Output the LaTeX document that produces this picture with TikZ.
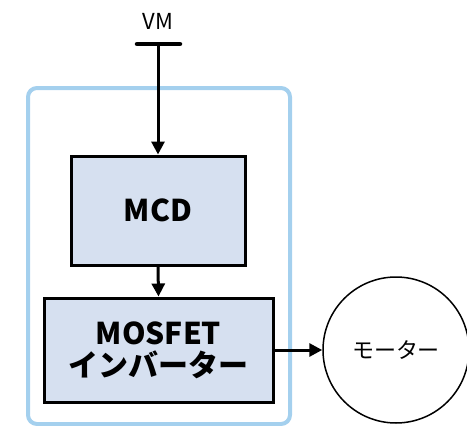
\documentclass[tikz,border=0pt]{standalone}
\usepackage{fontspec}
\setmainfont{Noto Sans CJK JP}
\usetikzlibrary{arrows.meta}
\definecolor{frameblue}{RGB}{164,208,238}
\definecolor{boxfill}{RGB}{214,224,240}
\tikzset{
  blockbox/.style={draw=black,line width=3pt,fill=boxfill,font=\fontsize{30}{36}\selectfont\bfseries,align=center,inner sep=0pt},
  conn/.style={line width=3pt,-{Triangle[length=13pt,width=13pt]}},
}
\begin{document}
\begin{tikzpicture}[x=1pt,y=-1pt]
\useasboundingbox (0,0) rectangle (467,426);
\draw[frameblue,line width=4pt,rounded corners=9pt] (28,88) rectangle (290,424);
\node[font=\fontsize{22}{26}\selectfont] (vm) at (158,21) {VM};
\coordinate (barl) at (137,44);
\coordinate (barr) at (180,44);
\coordinate (bar) at (158,44);
\draw[line width=4.5pt,line cap=round] (barl) -- (barr);
\node[blockbox,minimum width=174pt,minimum height=109pt] (mcd) at (158,210.5) {MCD};
\node[blockbox,minimum width=229pt,minimum height=104pt] (inv) at (158.5,350) {MOSFET\\[-4pt]インバーター};
\node[draw=black,line width=1.5pt,circle,minimum size=146pt,inner sep=0pt,font=\fontsize{22}{26}\selectfont] (motor) at (396,350) {モーター};
\draw[conn] (bar) -- (mcd.north);
\draw[conn] (mcd.south) -- (inv.north);
\draw[conn] (inv.east) -- (motor.west);
\end{tikzpicture}
\end{document}
